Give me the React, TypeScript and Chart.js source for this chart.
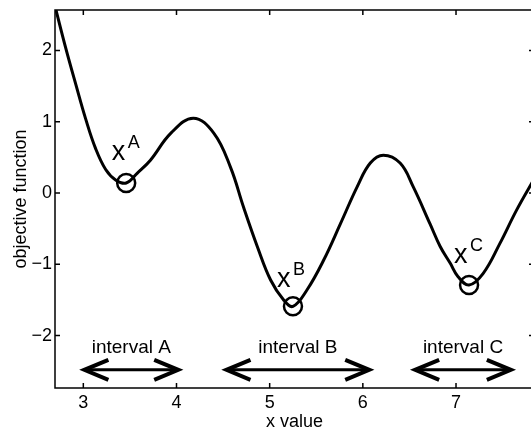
import React, { useEffect, useRef } from "react";
import { Chart, registerables } from "chart.js";

Chart.register(...registerables);

// ---- data ----
const curveX = [2.70, 2.81, 2.92, 3.025, 3.13, 3.24, 3.35, 3.46, 3.58, 3.72, 3.94, 4.18, 4.40, 4.58, 4.72, 4.87, 5.01, 5.15, 5.25, 5.40, 5.58, 5.76, 5.94, 6.08, 6.22, 6.40, 6.54, 6.72, 6.83, 6.94, 7.02, 7.14, 7.29, 7.47, 7.65, 7.84];
const curveY = [2.60, 2.04, 1.52, 1.04, 0.63, 0.33, 0.18, 0.14, 0.28, 0.46, 0.84, 1.05, 0.84, 0.36, -0.20, -0.76, -1.22, -1.50, -1.59, -1.36, -0.94, -0.43, 0.09, 0.42, 0.53, 0.42, 0.09, -0.43, -0.75, -0.99, -1.17, -1.29, -1.13, -0.71, -0.24, 0.20];

const minimaX = [3.46, 5.25, 7.14];
const minimaY = [0.14, -1.59, -1.29];
const minimaNames = ["A", "B", "C"];
const minimaLabelX = [3.315, 5.09, 6.99];
const minimaLabelY = [0.46, -1.32, -0.98];

const intervalNames = ["interval A", "interval B", "interval C"];
const intervalStart = [2.99, 4.515, 6.54];
const intervalEnd = [4.04, 6.09, 7.61];
const intervalArrowY = -2.48;
const intervalTextY = -2.245;

const xTicks = [3, 4, 5, 6, 7];
const yTicks = [-2, -1, 0, 1, 2];
const xMin = 2.696;
const xMax = 7.837;
const yMin = -2.735;
const yMax = 2.567;

const FONT = "'Liberation Sans', Arial, Helvetica, sans-serif";

const overlayPlugin = {
  id: "overlay",
  afterDatasetsDraw(chart: any) {
    const { ctx, chartArea } = chart;
    const xs = chart.scales.x;
    const ys = chart.scales.y;
    const { left, right, top, bottom } = chartArea;
    ctx.save();
    ctx.strokeStyle = "#000";
    ctx.fillStyle = "#000";
    // frame
    ctx.lineWidth = 1.5;
    ctx.strokeRect(left, top, right - left, bottom - top);
    // inward ticks
    const tl = 5;
    ctx.beginPath();
    xTicks.forEach((v) => {
      const px = xs.getPixelForValue(v);
      ctx.moveTo(px, bottom);
      ctx.lineTo(px, bottom - tl);
      ctx.moveTo(px, top);
      ctx.lineTo(px, top + tl);
    });
    yTicks.forEach((v) => {
      const py = ys.getPixelForValue(v);
      ctx.moveTo(left, py);
      ctx.lineTo(left + tl, py);
      ctx.moveTo(right, py);
      ctx.lineTo(right - tl, py);
    });
    ctx.stroke();

    // minima labels x^A etc
    ctx.textAlign = "left";
    ctx.textBaseline = "alphabetic";
    minimaNames.forEach((n, i) => {
      const px = xs.getPixelForValue(minimaLabelX[i]);
      const py = ys.getPixelForValue(minimaLabelY[i]);
      ctx.font = `27px ${FONT}`;
      ctx.fillText("x", px - 1, py);
      ctx.font = `18px ${FONT}`;
      ctx.fillText(n, px + 15, py - 12);
    });

    // intervals
    intervalNames.forEach((n, i) => {
      const x0 = xs.getPixelForValue(intervalStart[i]);
      const x1 = xs.getPixelForValue(intervalEnd[i]);
      const ay = ys.getPixelForValue(intervalArrowY);
      const ty = ys.getPixelForValue(intervalTextY);
      ctx.font = `19px ${FONT}`;
      ctx.textAlign = "center";
      ctx.fillText(n, (x0 + x1) / 2, ty);
      ctx.lineWidth = 3;
      ctx.beginPath();
      ctx.moveTo(x0 + 2, ay);
      ctx.lineTo(x1 - 2, ay);
      ctx.stroke();
      ctx.lineWidth = 4;
      ctx.lineJoin = "miter";
      ctx.beginPath();
      ctx.moveTo(x0 + 26, ay - 10);
      ctx.lineTo(x0 + 2, ay);
      ctx.lineTo(x0 + 26, ay + 10);
      ctx.moveTo(x1 - 26, ay - 10);
      ctx.lineTo(x1 - 2, ay);
      ctx.lineTo(x1 - 26, ay + 10);
      ctx.stroke();
    });
    ctx.restore();
  },
};

export default function App() {
  const ref = useRef<HTMLCanvasElement | null>(null);
  useEffect(() => {
    if (!ref.current) return;
    const chart = new Chart(ref.current, {
      type: "scatter",
      data: {
        datasets: [
          {
            data: curveX.map((x, i) => ({ x, y: curveY[i] })),
            showLine: true,
            borderColor: "#000",
            borderWidth: 3,
            pointRadius: 0,
            tension: 0.4,
            fill: false,
          } as any,
          {
            data: minimaX.map((x, i) => ({ x, y: minimaY[i] })),
            showLine: false,
            pointRadius: 9,
            pointBorderWidth: 2.5,
            pointBorderColor: "#000",
            pointBackgroundColor: "rgba(0,0,0,0)",
          } as any,
        ],
      },
      options: {
        animation: false,
        responsive: false,
        maintainAspectRatio: false,
        layout: { autoPadding: false, padding: { top: 10, left: 0, right: 0, bottom: 0 } },
        plugins: { legend: { display: false }, tooltip: { enabled: false } },
        scales: {
          x: {
            type: "linear",
            min: xMin,
            max: xMax,
            afterBuildTicks: (s: any) => {
              s.ticks = xTicks.map((v) => ({ value: v }));
            },
            afterFit: (s: any) => {
              s.height = 41;
              s.paddingLeft = 0;
              s.paddingRight = 0;
              s.paddingTop = 0;
              s.paddingBottom = 0;
            },
            grid: { display: false, drawTicks: false },
            border: { display: false },
            ticks: {
              color: "#000",
              font: { family: FONT, size: 18 },
              padding: 4,
              maxRotation: 0,
              autoSkip: false,
            },
            title: {
              display: true,
              text: "x value",
              color: "#000",
              font: { family: FONT, size: 18 },
              padding: { top: 0, bottom: -4 },
            },
          },
          y: {
            type: "linear",
            min: yMin,
            max: yMax,
            afterBuildTicks: (s: any) => {
              s.ticks = yTicks.map((v) => ({ value: v }));
            },
            afterFit: (s: any) => {
              s.width = 55;
              s.paddingLeft = 0;
              s.paddingRight = 0;
              s.paddingTop = 0;
              s.paddingBottom = 0;
            },
            grid: { display: false, drawTicks: false },
            border: { display: false },
            ticks: {
              color: "#000",
              font: { family: FONT, size: 18 },
              padding: 3,
              autoSkip: false,
              callback: (v: any) => (v < 0 ? "\u2212" + Math.abs(v) : String(v)),
            },
            title: {
              display: true,
              text: "objective function",
              color: "#000",
              font: { family: FONT, size: 18 },
              padding: { top: 10, bottom: 0 },
            },
          },
        },
      } as any,
      plugins: [overlayPlugin],
    });
    return () => chart.destroy();
  }, []);
  return (
    <div
      style={{
        position: "absolute",
        left: 0,
        top: 0,
        width: 531,
        height: 429,
        overflow: "hidden",
        background: "#fff",
      }}
    >
      <canvas ref={ref} width={534} height={429} style={{ display: "block" }} />
    </div>
  );
}
